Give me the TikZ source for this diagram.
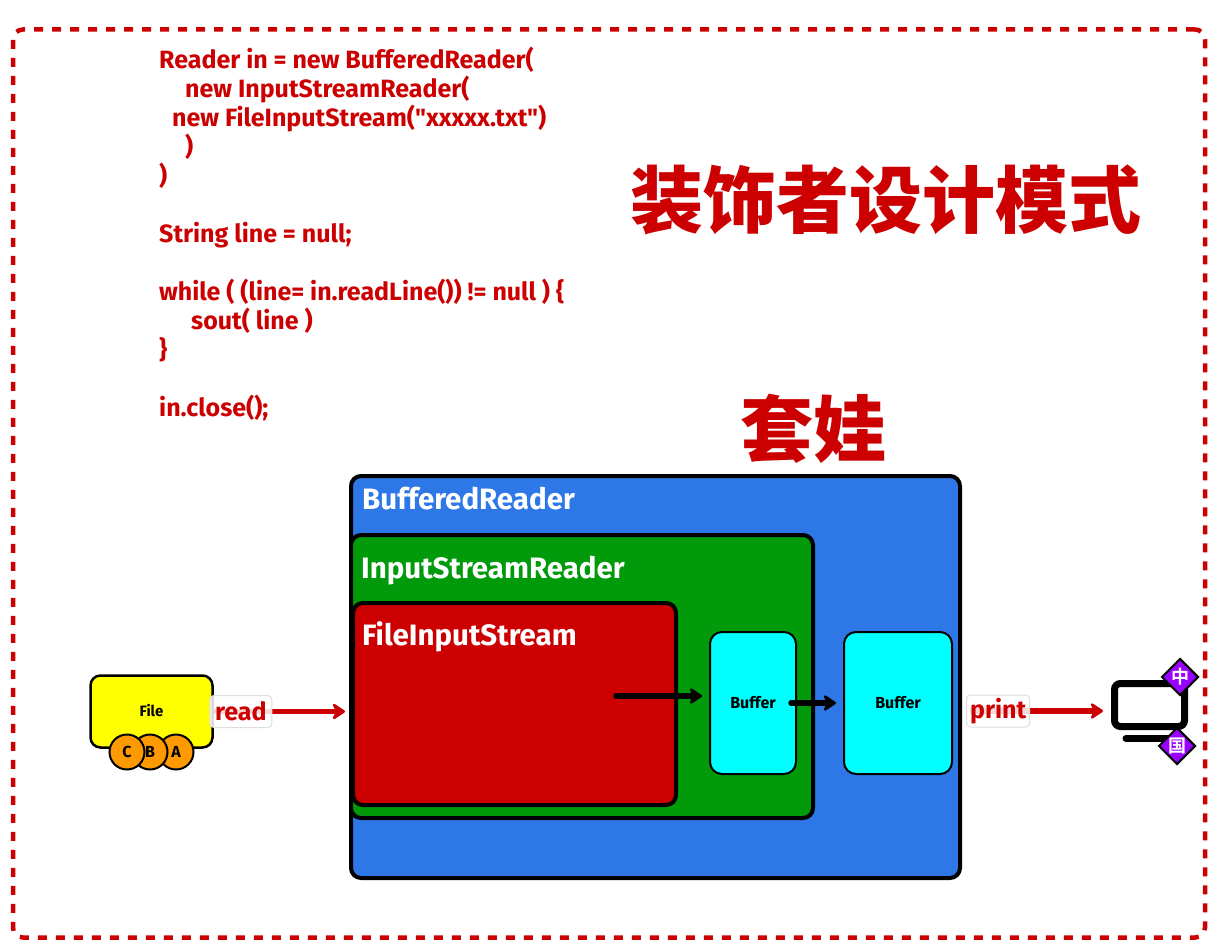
\documentclass[tikz,border=0pt]{standalone}
\usepackage{fontspec}
\setmainfont{Fira Sans}[BoldFont={Fira Sans Bold}]
\newfontfamily\codefont{Fira Sans Bold}
\newfontfamily\cjkbold{Noto Sans CJK SC Bold}
\newfontfamily\cjkblack{Noto Sans CJK SC Black}
\definecolor{codered}{RGB}{204, 0, 0}
\definecolor{readerblue}{RGB}{45, 120, 230}
\definecolor{readergreen}{RGB}{0, 154, 10}
\definecolor{bufcyan}{RGB}{0, 255, 255}
\definecolor{fileyellow}{RGB}{255, 255, 0}
\definecolor{charpurple}{RGB}{153, 0, 255}
\definecolor{charorange}{RGB}{255, 153, 0}
\definecolor{labelgray}{RGB}{222, 222, 222}
\usetikzlibrary{shapes, arrows.meta, positioning}
\tikzset{
  panel/.style={draw=black, line width=4pt, rounded corners=10pt, inner sep=0pt},
  bufbox/.style={draw=black, line width=2pt, rounded corners=12pt, fill=bufcyan, inner sep=0pt, font=\bfseries\fontsize{16}{18}\selectfont},
  panellabel/.style={anchor=west, inner sep=0pt, text=white, font=\bfseries\fontsize{29.5}{34}\selectfont},
  edgelabel/.style={draw=labelgray, line width=1pt, fill=white, fill opacity=.85, text opacity=1, rounded corners=4pt, text=codered, font=\bfseries\fontsize{25}{30}\selectfont, inner sep=0pt, minimum height=32pt},
  charball/.style={circle, draw=black, line width=2pt, fill=charorange, inner sep=0pt, minimum size=35pt, font=\bfseries\fontsize{16}{18}\selectfont},
  chardiamond/.style={diamond, draw=black, line width=2pt, fill=charpurple, inner sep=0pt, minimum size=37pt, text=white, font=\cjkbold\fontsize{18}{20}\selectfont},
  redarrow/.style={draw=codered, line width=5.5pt, -{Stealth[round, length=15pt, width=20pt, inset=5pt]}},
  blackarrow/.style={draw=black, line width=5.5pt, line cap=round, -{Stealth[round, length=15pt, width=20pt, inset=5pt]}},
  bigtitle/.style={inner sep=0pt, text=codered, font=\cjkblack\fontsize{73}{80}\selectfont},
}

\begin{document}
\begin{tikzpicture}[x=1pt, y=-1pt]
  \useasboundingbox (0, 0) rectangle (1219, 950);

  % dashed frame
  \node[draw=codered, line width=4.5pt, dash pattern=on 9pt off 9pt, rounded corners=10pt, minimum width=1192pt, minimum height=908pt, inner sep=0pt] (frame) at (609, 483.5) {};

  \node[anchor=north west, inner sep=0pt, align=left, text=codered, font=\codefont\fontsize{25}{29}\selectfont] (code) at (159, 47) {
    Reader in = new BufferedReader(\\
    \hspace*{26pt}new InputStreamReader(\\
    \hspace*{13pt}new FileInputStream("xxxxx.txt")\\
    \hspace*{26pt})\\
    )\\[29pt]
    String line = null;\\[29pt]
    while ( (line= in.readLine()) != null ) \{\\
    \hspace*{32pt}sout( line )\\
    \}\\[29pt]
    in.close();
  };

  \node[bigtitle] (title) at (886, 200) {装饰者设计模式};
  \node[bigtitle] (nesting) at (813, 429) {套娃};

  % nested readers
  \node[panel, fill=readerblue, minimum width=609pt, minimum height=402pt] (br) at (655.5, 677) {};
  \node[panel, fill=readergreen, minimum width=462pt, minimum height=283pt] (isr) at (582, 676.5) {};
  \node[panel, fill=codered, minimum width=323pt, minimum height=202pt] (fis) at (514.5, 704) {};
  \node[panellabel] (brlabel) at (362, 499) {BufferedReader};
  \node[panellabel] (isrlabel) at (361, 571) {InputStreamReader};
  \node[panellabel] (fislabel) at (362, 637) {FileInputStream};

  \node[bufbox, minimum width=86pt, minimum height=142pt] (buf1) at (753, 703) {Buffer};
  \node[bufbox, minimum width=108pt, minimum height=142pt] (buf2) at (898, 703) {Buffer};
  \coordinate (fisout) at (616, 696);
  \coordinate (bufout) at (791, 703);
  \draw[blackarrow, shorten >=7pt] (fisout) -- (fisout -| buf1.west);
  \draw[blackarrow, shorten >=7pt] (bufout) -- (bufout -| buf2.west);

  % source file
  \node[draw=black, line width=2.5pt, rounded corners=10pt, fill=fileyellow, minimum width=122pt, minimum height=72pt, inner sep=0pt, font=\bfseries\fontsize{15}{18}\selectfont] (file) at (151.5, 711.5) {\raisebox{3pt}{File}};
  \node[charball] (chara) at (176, 752) {A};
  \node[charball] (charb) at (150, 752) {B};
  \node[charball] (charc) at (127, 752) {C};

  % screen
  \node[draw=black, line width=7pt, rounded corners=6pt, minimum width=70pt, minimum height=43pt, inner sep=0pt] (screen) at (1149.5, 705) {};
  \coordinate (basel) at (1126, 738.5);
  \coordinate (baser) at (1168, 738.5);
  \draw[line width=7pt, line cap=round] (basel) -- (baser);
  \node[chardiamond] (zhong) at (1180, 677) {中};
  \node[chardiamond] (guo) at (1177, 746) {国};

  \draw[redarrow, shorten >=4pt] (file.east) -- node[edgelabel, pos=.2, minimum width=62pt] (read) {read} (file.east -| br.west);
  \coordinate (printin) at (970, 711);
  \draw[redarrow, shorten >=8pt] (printin) -- node[edgelabel, pos=.2, minimum width=63pt] (print) {print} (printin -| screen.west);
\end{tikzpicture}
\end{document}
